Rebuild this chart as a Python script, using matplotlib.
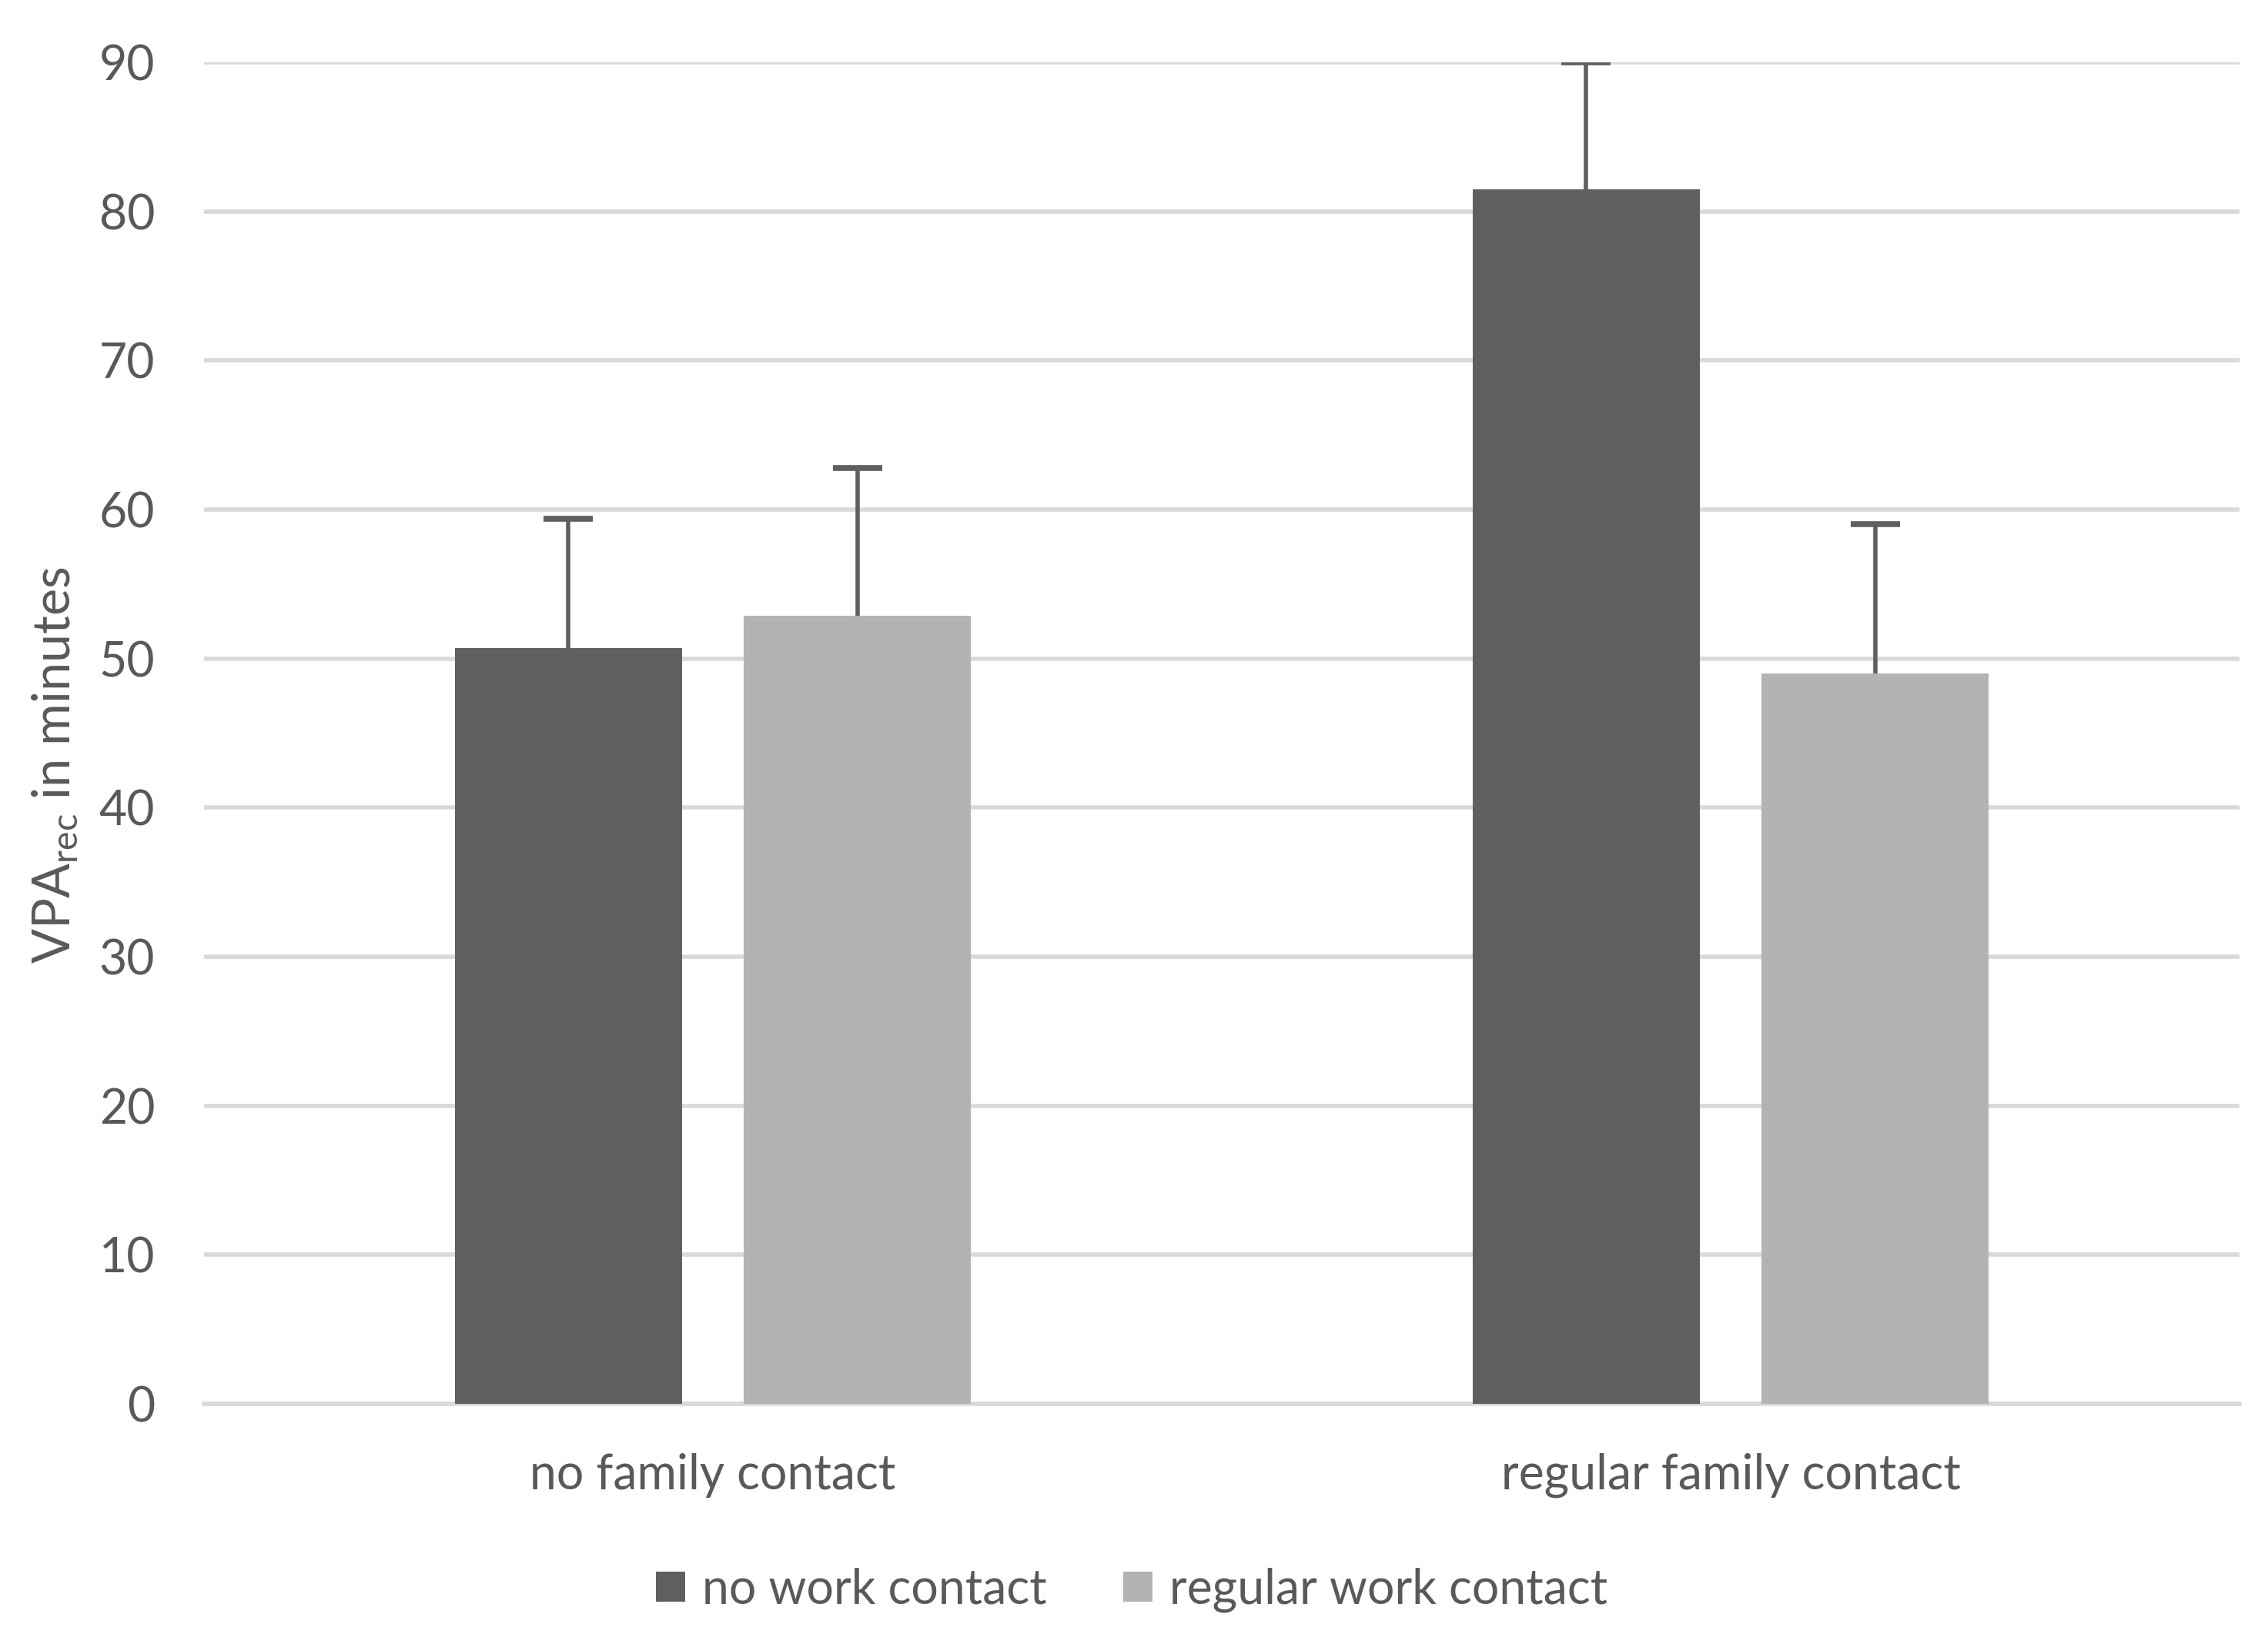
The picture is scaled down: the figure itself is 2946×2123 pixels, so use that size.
import matplotlib
matplotlib.use("Agg")
import matplotlib.pyplot as plt
import numpy as np

categories = ["no family contact", "regular family contact"]
series = ["no work contact", "regular work contact"]
no_work = [50.7, 81.5]
no_work_err = [8.7, 8.5]
regular_work = [52.9, 49.0]
regular_work_err = [9.9, 10.0]
yticks = [0, 10, 20, 30, 40, 50, 60, 70, 80, 90]

plt.rcParams['font.family'] = ['Lato', 'DejaVu Sans']
plt.rcParams['mathtext.default'] = 'regular'
txt = '#595959'
colors = ['#5f5f5f', '#b3b3b3']

fig = plt.figure(figsize=(29.46, 21.23), dpi=100)
ax = fig.add_axes([0.09, 0.1408, 0.8974, 0.8210])

x = np.arange(len(categories))
w = 0.223
off = 0.142
ek = dict(ecolor='#5f5f5f', elinewidth=4, capsize=23, capthick=5.5)
b1 = ax.bar(x - off, no_work, w, color=colors[0], label=series[0], zorder=3)
b2 = ax.bar(x + off, regular_work, w, color=colors[1], label=series[1], zorder=3)
e1 = ax.errorbar(x - off, no_work, yerr=[np.zeros(2), no_work_err], fmt='none', zorder=4, **ek)
e2 = ax.errorbar(x + off, regular_work, yerr=[np.zeros(2), regular_work_err], fmt='none', zorder=4, **ek)
for e in (e1, e2):
    e[1][0].set_visible(False)  # hide lower caps

ax.set_xlim(-0.5, 1.5)
ax.set_ylim(0, 90)
ax.set_yticks(yticks)
ax.set_yticklabels([str(v) for v in yticks])
ax.set_xticks(x)
ax.set_xticklabels(categories)
ax.yaxis.grid(True, color='#d9d9d9', linewidth=4, zorder=0)
ax.set_axisbelow(True)
for s in ['top', 'right', 'left']:
    ax.spines[s].set_visible(False)
ax.spines['bottom'].set_color('#d9d9d9')
ax.spines['bottom'].set_linewidth(4)
ax.tick_params(axis='both', length=0, labelsize=45, labelcolor=txt)
ax.tick_params(axis='y', pad=46)
ax.tick_params(axis='x', pad=46)

fig.text(0.0245, 0.532, 'VPA$_{rec}$ in minutes', rotation=90, ha='center', va='center',
         fontsize=48, color=txt)

fig.legend(handles=[b1, b2], labels=series, loc='center', bbox_to_anchor=(0.499, 0.027),
           ncol=2, frameon=False, fontsize=45, labelcolor=txt, handlelength=0.6,
           handleheight=0.6, columnspacing=1.6, handletextpad=0.35)

fig.savefig('out.png', dpi=100, facecolor='white')
